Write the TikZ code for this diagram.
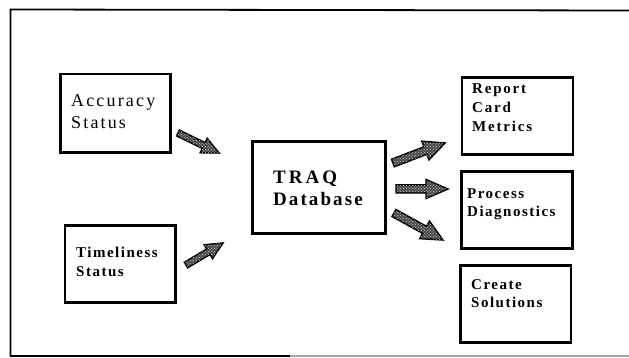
\documentclass[tikz,border=0pt]{standalone}
\usepackage{fontspec}
\setmainfont{Liberation Serif}
\newfontfamily\spacedA[LetterSpace=12]{Liberation Serif}
\newfontfamily\spacedB[LetterSpace=10]{Liberation Serif}
\newfontfamily\spacedC[LetterSpace=16]{Liberation Serif}
\newfontfamily\spacedD[LetterSpace=11]{Liberation Serif}
\usetikzlibrary{calc,patterns}

% block arrow between two named coordinates:
% #1 tail, #2 tip, #3 shaft half width, #4 head half width, #5 head length
\newcommand\blockarrow[5]{%
  \path let \p1=($(#2)-(#1)$) in
    \pgfextra{\pgfmathparse{atan2(\y1,\x1)}\xdef\bkang{\pgfmathresult}%
              \pgfmathparse{veclen(\x1,\y1)}\xdef\bklen{\pgfmathresult}};
  \begin{scope}[shift={(#1)},rotate=\bkang,x=1pt,y=1pt]
    \draw[blockarrow] (0,-#3) -- ({\bklen-#5},-#3) -- ({\bklen-#5},-#4)
      -- (\bklen,0) -- ({\bklen-#5},#4) -- ({\bklen-#5},#3) -- (0,#3) -- cycle;
  \end{scope}}

\begin{document}
\begin{tikzpicture}[x=1pt,y=-1pt,
  box/.style={draw=black,line width=2.6pt,inner sep=0pt},
  label/.style={anchor=base west,inner sep=0pt,align=left},
  blockarrow/.style={draw=black,line width=1.5pt,line join=miter,fill=black!70,
    postaction={pattern=crosshatch dots,pattern color=black!25}},
  frameline/.style={line width=1.8pt,line cap=rect}]
\useasboundingbox (0,0) rectangle (629,358);
\fill[white] (0,0) rectangle (629,358);

% outer frame (open on the right)
\draw[frameline] (10.5,356) -- (10.5,9.5) -- (629,10.5);
\draw[frameline] (10.5,356) -- (290,356);
\draw[line width=1.2pt,black!35] (290,356) -- (629,356);

% boxes
\node[box,minimum width=110pt,minimum height=78.7pt] (acc) at (115.6,113.4) {};
\node[box,minimum width=110.6pt,minimum height=77.4pt] (tim) at (120.1,264) {};
\node[box,minimum width=133pt,minimum height=92.4pt] (traq) at (318.9,187.5) {};
\node[box,minimum width=111pt,minimum height=77pt] (rep) at (517.5,115.9) {};
\node[box,minimum width=111pt,minimum height=77.4pt] (proc) at (516.7,210) {};
\node[box,minimum width=110.7pt,minimum height=77.4pt] (crea) at (515.7,304) {};

% box texts (anchored on the baseline of the last line)
\node[label,font={\spacedA\fontsize{18}{22}\selectfont}] (accT) at (71,129) {Accuracy\\Status};
\node[label,font={\spacedB\bfseries\fontsize{15}{18}\selectfont}] (timT) at (76,276) {Timeliness\\Status};
\node[label,font={\bfseries\fontsize{19}{22}\selectfont}] (traqT) at (273,206) {{\spacedC TRAQ}\\{\spacedD Database}};
\node[label,font={\spacedA\bfseries\fontsize{15}{19}\selectfont}] (repT) at (472,132) {Report\\Card\\Metrics};
\node[label,font={\spacedB\bfseries\fontsize{15}{18}\selectfont}] (procT) at (467,217) {Process\\Diagnostics};
\node[label,font={\spacedB\bfseries\fontsize{15}{18}\selectfont}] (creaT) at (471,307) {Create\\Solutions};

% arrow end points
\coordinate (a1t) at (178,133); \coordinate (a1h) at (219,153);
\coordinate (a2t) at (186,265); \coordinate (a2h) at (223,243);
\coordinate (a3t) at (393,163); \coordinate (a3h) at (445,143);
\coordinate (a4t) at (396,189); \coordinate (a4h) at (448,189);
\coordinate (a5t) at (394,213); \coordinate (a5h) at (443,240);

\blockarrow{a1t}{a1h}{3.2}{8}{17}
\blockarrow{a2t}{a2h}{3.2}{8}{17}
\blockarrow{a3t}{a3h}{4}{10}{21}
\blockarrow{a4t}{a4h}{4}{9.5}{22}
\blockarrow{a5t}{a5h}{4}{10}{21}
\end{tikzpicture}
\end{document}
